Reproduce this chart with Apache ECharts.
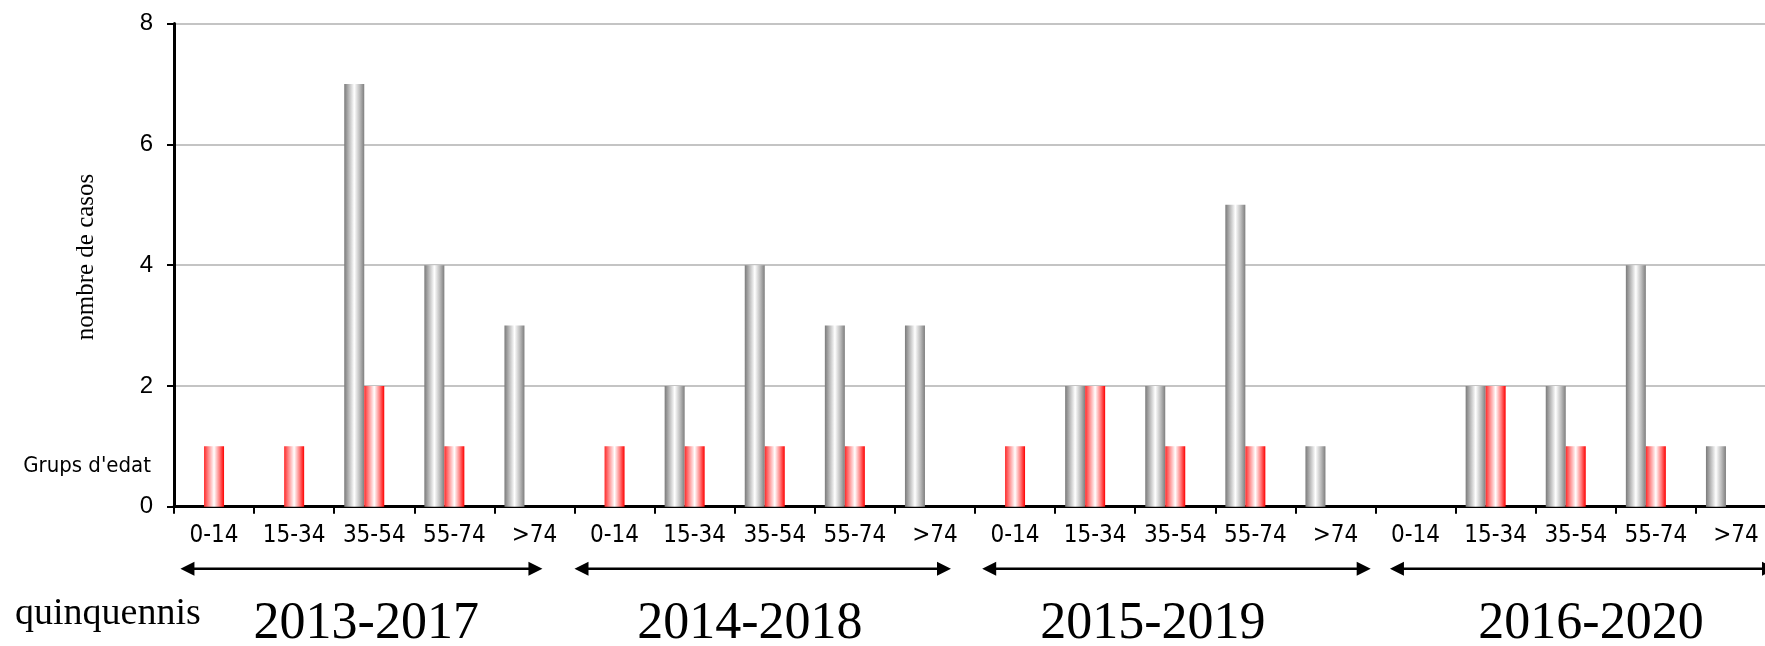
<!DOCTYPE html>
<html>
<head>
<meta charset="utf-8">
<script src="https://cdn.jsdelivr.net/npm/echarts@6/dist/echarts.min.js"></script>
<style>
  html, body { margin: 0; padding: 0; background: #fff; }
  #chart { width: 1765px; height: 646px; }
</style>
</head>
<body>
<div id="chart"></div>
<script>
// ---- data ----
const periods = ['2013-2017', '2014-2018', '2015-2019', '2016-2020'];
const ageGroups = ['0-14', '15-34', '35-54', '55-74', '>74'];
const greyValues = [0, 0, 7, 4, 3,  0, 2, 4, 3, 3,  0, 2, 2, 5, 1,  0, 2, 2, 4, 1];
const redValues  = [1, 1, 2, 1, 0,  1, 1, 1, 1, 0,  1, 2, 1, 1, 0,  0, 2, 1, 1, 0];
const emptyValues = ['-', '-', '-', '-', '-', '-', '-', '-', '-', '-', '-', '-', '-', '-', '-', '-', '-', '-', '-', '-'];
const yAxisTitle = 'nombre de casos';
const strayLabel = "Grups d'edat";
const periodCaption = 'quinquennis';

// categories: period|age (labels show age only)
const categories = [];
periods.forEach(p => ageGroups.forEach(a => categories.push(p + '|' + a)));

// annotation layout (category units from the left edge of the axis)
const arrowSpans = [[0.08, 4.60], [5.0, 9.70], [10.09, 14.94], [15.18, 20.0]];
const periodLabelCenters = [2.40, 7.19, 12.22, 17.69];

const chart = echarts.init(document.getElementById('chart'), null, { renderer: 'canvas' });

const greyGrad = new echarts.graphic.LinearGradient(0, 0, 1, 0, [
  { offset: 0, color: '#7a7a7a' },
  { offset: 0.22, color: '#b5b5b5' },
  { offset: 0.5, color: '#ffffff' },
  { offset: 0.78, color: '#bababa' },
  { offset: 1, color: '#7e7e7e' }
]);
const redGrad = new echarts.graphic.LinearGradient(0, 0, 1, 0, [
  { offset: 0, color: '#ff2a2a' },
  { offset: 0.22, color: '#ff8c8c' },
  { offset: 0.5, color: '#ffffff' },
  { offset: 0.78, color: '#ff7a7a' },
  { offset: 1, color: '#ff0000' }
]);

chart.setOption({
  animation: false,
  backgroundColor: '#ffffff',
  grid: { left: 174, width: 1602, top: 23.6, bottom: 139.3, containLabel: false, outerBoundsMode: 'none' },
  xAxis: {
    type: 'category',
    data: categories,
    boundaryGap: true,
    axisLine: { show: true, lineStyle: { color: '#000', width: 3 } },
    axisTick: { show: true, interval: 0, length: 7, lineStyle: { color: '#000', width: 2 } },
    axisLabel: {
      interval: 0,
      margin: 17,
      color: '#000',
      fontSize: 24,
      fontFamily: '"DejaVu Sans Condensed", "DejaVu Sans", sans-serif',
      formatter: v => v.split('|')[1]
    },
    splitLine: { show: false }
  },
  yAxis: {
    type: 'value',
    min: 0,
    max: 8,
    interval: 2,
    axisLine: { show: true, lineStyle: { color: '#000', width: 3 } },
    axisTick: { show: true, length: 7, lineStyle: { color: '#000', width: 2 } },
    axisLabel: {
      margin: 21,
      color: '#000',
      fontSize: 24,
      fontFamily: '"Liberation Sans", Arial, sans-serif'
    },
    splitLine: { show: true, lineStyle: { color: '#c4c4c4', width: 2 } }
  },
  series: [
    { name: 'A', type: 'bar', data: greyValues, barWidth: 20, barGap: '0%', itemStyle: { color: greyGrad } },
    { name: 'B', type: 'bar', data: redValues, barWidth: 20, barGap: '0%', itemStyle: { color: redGrad } },
    { name: 'C', type: 'bar', data: emptyValues, barWidth: 20, barGap: '0%', itemStyle: { color: 'transparent' } }
  ]
});

// ---- annotations positioned from the axis scale ----
const c0 = chart.convertToPixel({ xAxisIndex: 0 }, categories[0]);
const c1 = chart.convertToPixel({ xAxisIndex: 0 }, categories[1]);
const bw = c1 - c0;
const axisLeft = c0 - bw / 2;
const xAt = u => axisLeft + u * bw;
const y0 = chart.convertToPixel({ yAxisIndex: 0 }, 0);

const arrowY = y0 + 62;
const headLen = 14, headHalf = 7;
const graphics = [];
arrowSpans.forEach(([a, b]) => {
  const xa = xAt(a), xb = xAt(b);
  graphics.push({ type: 'line', silent: true, shape: { x1: xa + headLen - 2, y1: arrowY, x2: xb - headLen + 2, y2: arrowY },
    style: { stroke: '#000', lineWidth: 2.5 } });
  graphics.push({ type: 'polygon', silent: true, shape: { points: [[xa, arrowY], [xa + headLen, arrowY - headHalf], [xa + headLen, arrowY + headHalf]] },
    style: { fill: '#000' } });
  graphics.push({ type: 'polygon', silent: true, shape: { points: [[xb, arrowY], [xb - headLen, arrowY - headHalf], [xb - headLen, arrowY + headHalf]] },
    style: { fill: '#000' } });
});
periods.forEach((p, i) => {
  graphics.push({ type: 'text', silent: true, x: xAt(periodLabelCenters[i]), y: y0 + 118,
    style: { text: p, font: '52px "Liberation Serif", "Times New Roman", serif', fill: '#000',
      align: 'center', verticalAlign: 'middle', textAlign: 'center', textVerticalAlign: 'middle' } });
});
graphics.push({ type: 'text', silent: true, x: 15, y: y0 + 107,
  style: { text: periodCaption, font: '38px "Liberation Serif", "Times New Roman", serif', fill: '#000',
    align: 'left', verticalAlign: 'middle', textAlign: 'left', textVerticalAlign: 'middle' } });
graphics.push({ type: 'text', silent: true, x: 151, y: y0 - 40,
  style: { text: strayLabel, font: '22px "DejaVu Sans Condensed", "DejaVu Sans", sans-serif', fill: '#000',
    align: 'right', verticalAlign: 'middle', textAlign: 'right', textVerticalAlign: 'middle' } });
graphics.push({ type: 'text', silent: true, x: 86, y: 257, rotation: Math.PI / 2,
  style: { text: yAxisTitle, font: '25px "Liberation Serif", "Times New Roman", serif', fill: '#000',
    align: 'center', verticalAlign: 'middle', textAlign: 'center', textVerticalAlign: 'middle' } });

chart.setOption({ graphic: graphics });
</script>
</body>
</html>
